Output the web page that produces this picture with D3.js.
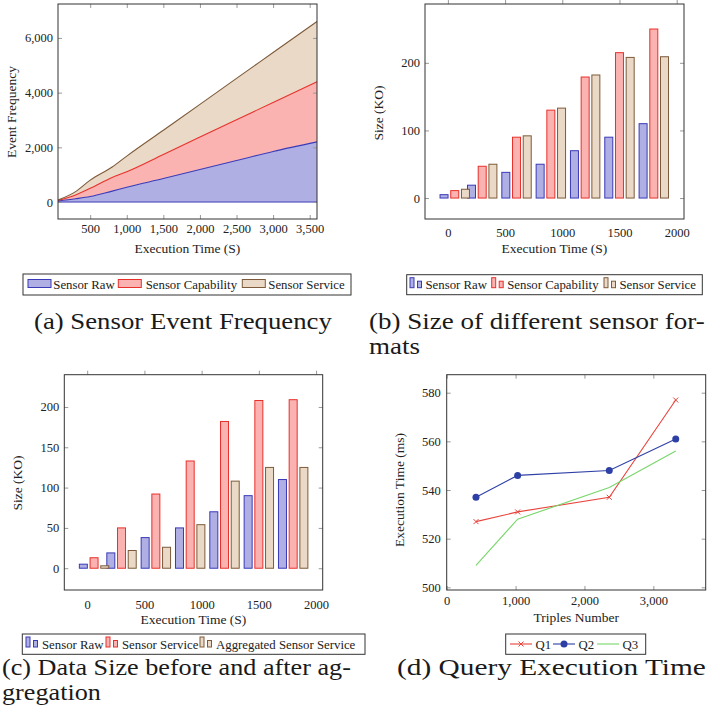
<!DOCTYPE html>
<html>
<head>
<meta charset="utf-8">
<script src="https://cdn.jsdelivr.net/npm/d3@7"></script>
<style>
body { margin: 0; background: #fff; }
</style>
</head>
<body>
<div id="fig"></div>
<script>
// (a) event frequency per format (stacked)
var freqTime = [60, 300, 500, 800, 1000, 1500, 2000, 2500, 3000, 3600];
var freqRaw = [40, 120, 200, 400, 540, 860, 1190, 1520, 1850, 2200];
var freqCapability = [20, 140, 300, 500, 570, 880, 1185, 1490, 1790, 2200];
var freqService = [10, 120, 300, 380, 570, 885, 1195, 1510, 1825, 2200];
var freqXTicks = [500, 1000, 1500, 2000, 2500, 3000, 3500];
var freqYTicks = [0, 2000, 4000, 6000];
var freqSeries = ["Sensor Raw", "Sensor Capability", "Sensor Service"];

// (b) size of the different sensor formats
var sizeTime = [60, 300, 600, 900, 1200, 1500, 1800];
var sizeRaw = [5, 19, 38, 50, 70, 90, 110];
var sizeCapability = [11, 47, 90, 130, 179, 215, 250];
var sizeService = [13, 50, 92, 133, 182, 208, 209];
var sizeXTicks = [0, 500, 1000, 1500, 2000];
var sizeYTicks = [0, 100, 200];

// (c) before / after aggregation
var aggRaw = [5, 19, 38, 50, 70, 90, 110];
var aggService = [13, 50, 92, 133, 182, 208, 209];
var aggAggregated = [3, 22, 26, 54, 108, 125, 125];
var aggYTicks = [0, 50, 100, 150, 200];
var aggSeries = ["Sensor Raw", "Sensor Service", "Aggregated Sensor Service"];

// (d) query execution time
var triples = [425, 1030, 2360, 3325];
var q1 = [527, 531, 537, 577];
var q2 = [537, 546, 548, 561];
var q3 = [509, 528, 541, 556];
var queryXTicks = [0, 1000, 2000, 3000];
var queryYTicks = [500, 520, 540, 560, 580];
var querySeries = ["Q1", "Q2", "Q3"];

var FONT = "'Liberation Serif', serif";

var blue = {line: "#3a3ab8", fill: "#afafe3"},
    red = {line: "#e8302a", fill: "#fbb3b2"},
    brown = {line: "#7d5a3a", fill: "#ead9c6"};

var svg = d3.select("#fig").append("svg")
    .attr("width", 711)
    .attr("height", 720);

//box, ticks and tick labels of one plot
function drawAxes(x, y, xTicks, yTicks, opts){
    var xr = x.range(), yr = y.range();
    var g = svg.append("g");
    var fmt = opts.comma ? d3.format(",") : d3.format("d");

    g.append("g")
        .attr("transform", "translate(0," + yr[0] + ")")
        .call(d3.axisBottom(x).tickValues(xTicks).tickSize(opts.bars ? 0 : -4)
            .tickPadding(opts.xPad).tickFormat(fmt));
    g.append("g")
        .attr("transform", "translate(0," + yr[1] + ")")
        .call(d3.axisTop(x).tickValues(xTicks).tickSize(opts.bars ? 4 : -4).tickFormat(""));
    g.append("g")
        .attr("transform", "translate(" + xr[0] + ",0)")
        .call(d3.axisLeft(y).tickValues(yTicks).tickSize(-4)
            .tickPadding(opts.yPad).tickFormat(opts.comma ? d3.format(",") : d3.format("d")));
    g.append("g")
        .attr("transform", "translate(" + xr[1] + ",0)")
        .call(d3.axisRight(y).tickValues(yTicks).tickSize(-4).tickFormat(""));

    g.selectAll(".domain").remove();
    g.selectAll(".tick line").attr("stroke", "#999");
    g.selectAll(".tick text").style("font-size", "12.5px");

    g.append("rect")
        .attr("x", xr[0]).attr("y", yr[1])
        .attr("width", xr[1] - xr[0]).attr("height", yr[0] - yr[1])
        .attr("fill", "none").attr("stroke", "#333");

    g.append("text")
        .attr("x", (xr[0] + xr[1]) / 2)
        .attr("y", opts.xLabelY)
        .attr("text-anchor", "middle")
        .style("font-size", "13.5px")
        .text(opts.xLabel);
    g.append("text")
        .attr("transform", "translate(" + opts.yLabelX + "," + opts.yLabelY + ") rotate(-90)")
        .attr("text-anchor", "middle")
        .attr("dy", "0.35em")
        .style("font-size", "13.5px")
        .text(opts.yLabel);
}

function legendBox(x0, x1, y0, y1){
    svg.append("rect")
        .attr("x", x0).attr("y", y0)
        .attr("width", x1 - x0).attr("height", y1 - y0)
        .attr("fill", "#fff").attr("stroke", "#333");
}

function legendText(x, y, label){
    svg.append("text")
        .attr("x", x).attr("y", y)
        .style("font-size", "12.8px")
        .text(label);
}

//two little bars used in the ybar legends
function barSwatch(x, top, c){
    svg.append("rect").attr("x", x).attr("y", top + 3)
        .attr("width", 4).attr("height", 10)
        .attr("fill", c.fill).attr("stroke", c.line);
    svg.append("rect").attr("x", x + 7.5).attr("y", top + 6.5)
        .attr("width", 4).attr("height", 6.5)
        .attr("fill", c.fill).attr("stroke", c.line);
}

function caption(lines, x, baseline, width){
    var g = svg.append("g");
    var t = g.selectAll("text")
        .data(lines)
        .enter()
        .append("text")
        .attr("x", 0)
        .attr("y", function(d, i){ return i * 25.5; })
        .style("font-family", FONT)
        .style("font-size", "24px")
        .attr("fill", "#1a1a1a")
        .text(function(d){ return d; });
    var sx = width / t.node().getComputedTextLength();
    g.attr("transform", "translate(" + x + "," + baseline + ") scale(" + sx + ",1)");
}

// ---------- (a) stacked area ----------
function chartA(){
    var x = d3.scaleLinear().domain([60, 3600]).range([58, 317]);
    var y = d3.scaleLinear().domain([-620, 7240]).range([219, 4]);

    var rows = freqTime.map(function(t, i){
        return {t: t, raw: freqRaw[i], cap: freqCapability[i], serv: freqService[i]};
    });
    var stacked = d3.stack().keys(["raw", "cap", "serv"])(rows);
    var colors = [blue, red, brown];

    var area = d3.area()
        .curve(d3.curveMonotoneX)
        .x(function(d){ return x(d.data.t); })
        .y0(function(d){ return y(d[0]); })
        .y1(function(d){ return y(d[1]); });
    var top = d3.line()
        .curve(d3.curveMonotoneX)
        .x(function(d){ return x(d.data.t); })
        .y(function(d){ return y(d[1]); });

    svg.selectAll(".area")
        .data(stacked)
        .enter()
        .append("path")
        .attr("class", "area")
        .attr("d", area)
        .attr("fill", function(d, i){ return colors[i].fill; });

    //zero line of the first layer
    svg.append("line")
        .attr("x1", x(60)).attr("x2", x(3600))
        .attr("y1", y(0)).attr("y2", y(0))
        .attr("stroke", blue.line);

    svg.selectAll(".topline")
        .data(stacked)
        .enter()
        .append("path")
        .attr("class", "topline")
        .attr("d", top)
        .attr("fill", "none")
        .attr("stroke", function(d, i){ return colors[i].line; })
        .attr("stroke-width", 1.1);

    drawAxes(x, y, freqXTicks, freqYTicks, {
        comma: true, xPad: 5, yPad: 5,
        xLabel: "Execution Time (S)", xLabelY: 253,
        yLabel: "Event Frequency", yLabelX: 11, yLabelY: 112
    });

    legendBox(23, 351, 274, 295);
    var sx = [28, 118.3, 242.3], tx = [53.3, 145.7, 268.3];
    freqSeries.forEach(function(s, i){
        svg.append("rect")
            .attr("x", sx[i]).attr("y", 279.5)
            .attr("width", 23).attr("height", 8)
            .attr("fill", colors[i].fill).attr("stroke", colors[i].line);
        legendText(tx[i], 289, s);
    });
}

// ---------- grouped bars, used by (b) and (c) ----------
function drawBars(x, y, series, colors){
    var offsets = [-10.7, 0, 10.7];
    series.forEach(function(vals, k){
        svg.selectAll(null)
            .data(vals)
            .enter()
            .append("rect")
            .attr("x", function(d, i){ return x(sizeTime[i]) + offsets[k] - 4; })
            .attr("y", function(d){ return y(d); })
            .attr("width", 8)
            .attr("height", function(d){ return y(0) - y(d); })
            .attr("fill", colors[k].fill)
            .attr("stroke", colors[k].line);
    });
}

function chartB(){
    var x = d3.scaleLinear().domain([-200, 2064]).range([425, 684]);
    var y = d3.scaleLinear().domain([-31, 287]).range([219, 4]);
    drawBars(x, y, [sizeRaw, sizeCapability, sizeService], [blue, red, brown]);
    drawAxes(x, y, sizeXTicks, sizeYTicks, {
        bars: true, xPad: 9, yPad: 5,
        xLabel: "Execution Time (S)", xLabelY: 253,
        yLabel: "Size (KO)", yLabelX: 378, yLabelY: 113
    });
    legendBox(406.7, 702.3, 274.7, 294.7);
    var sx = [410, 491.7, 604];
    [blue, red, brown].forEach(function(c, i){
        barSwatch(sx[i], 274.7, c);
        legendText(sx[i] + 15.5, 289, freqSeries[i]);
    });
}

function chartC(){
    var x = d3.scaleLinear().domain([-200, 2058]).range([64.3, 322.7]);
    var y = d3.scaleLinear().domain([-27, 240]).range([590, 374.7]);
    drawBars(x, y, [aggRaw, aggService, aggAggregated], [blue, red, brown]);
    drawAxes(x, y, sizeXTicks, aggYTicks, {
        bars: true, xPad: 10, yPad: 5,
        xLabel: "Execution Time (S)", xLabelY: 624,
        yLabel: "Size (KO)", yLabelX: 17, yLabelY: 483
    });
    legendBox(22.3, 365, 634, 654.3);
    var sx = [26, 106, 200];
    [blue, red, brown].forEach(function(c, i){
        barSwatch(sx[i], 634, c);
        legendText(sx[i] + 16, 648.5, aggSeries[i]);
    });
}

// ---------- (d) lines ----------
function crossMark(g, cx, cy, col){
    g.append("path")
        .attr("d", "M" + (cx - 2.5) + "," + (cy - 2.5) + "L" + (cx + 2.5) + "," + (cy + 2.5) +
              "M" + (cx - 2.5) + "," + (cy + 2.5) + "L" + (cx + 2.5) + "," + (cy - 2.5))
        .attr("stroke", col).attr("stroke-width", 1);
}

function chartD(){
    var x = d3.scaleLinear().domain([0, 3760]).range([446.7, 705.7]);
    var y = d3.scaleLinear().domain([498.9, 587.4]).range([590, 374.7]);
    var cols = ["#e8443c", "#2e40a6", "#78d66a"];
    var line = d3.line()
        .x(function(d, i){ return x(triples[i]); })
        .y(function(d){ return y(d); });

    [q1, q2, q3].forEach(function(vals, k){
        svg.append("path")
            .attr("d", line(vals))
            .attr("fill", "none")
            .attr("stroke", cols[k])
            .attr("stroke-width", 1.1);
    });
    var mk = svg.append("g");
    q1.forEach(function(v, i){ crossMark(mk, x(triples[i]), y(v), cols[0]); });
    mk.selectAll("circle")
        .data(q2)
        .enter()
        .append("circle")
        .attr("cx", function(d, i){ return x(triples[i]); })
        .attr("cy", function(d){ return y(d); })
        .attr("r", 3.5)
        .attr("fill", cols[1]);

    drawAxes(x, y, queryXTicks, queryYTicks, {
        comma: true, xPad: 6, yPad: 6,
        xLabel: "Triples Number", xLabelY: 622,
        yLabel: "Execution Time (ms)", yLabelX: 399, yLabelY: 490
    });

    legendBox(505.7, 645.7, 634, 654.3);
    var lx = [510, 553, 597];
    querySeries.forEach(function(s, i){
        svg.append("line")
            .attr("x1", lx[i]).attr("x2", lx[i] + 22)
            .attr("y1", 644).attr("y2", 644)
            .attr("stroke", cols[i]).attr("stroke-width", 1.1);
        legendText(lx[i] + 25.5, 648.5, s);
    });
    crossMark(svg, lx[0] + 11, 644, cols[0]);
    svg.append("circle").attr("cx", lx[1] + 11).attr("cy", 644).attr("r", 3.5).attr("fill", cols[1]);
}

chartA();
chartB();
chartC();
chartD();

//same serif face for every label
svg.selectAll("text").style("font-family", FONT).attr("fill", "#222");

caption(["(a) Sensor Event Frequency"], 34, 329, 298);
caption(["(b) Size of different sensor for-", "mats"], 369, 329, 336);
caption(["(c) Data Size before and after ag-", "gregation"], 2, 675, 349);
caption(["(d) Query Execution Time"], 397, 675, 309);
</script>
</body>
</html>
